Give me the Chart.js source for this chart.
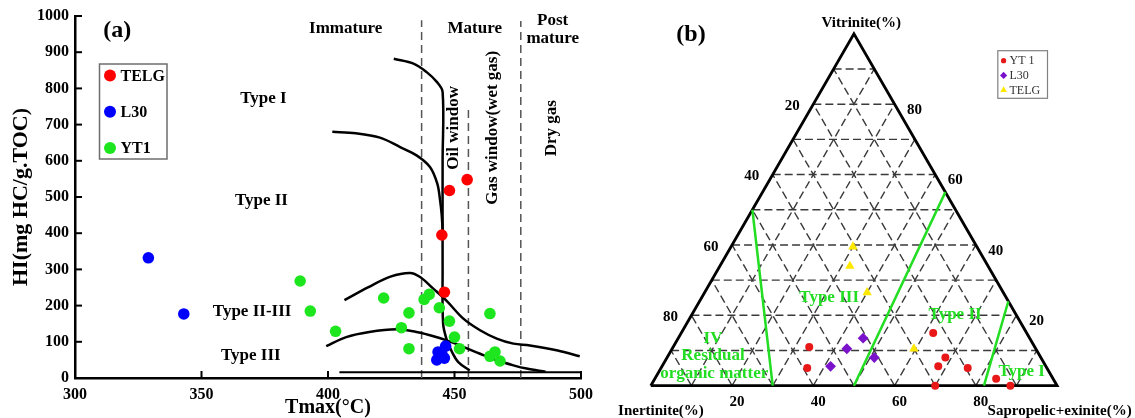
<!DOCTYPE html>
<html>
<head>
<meta charset="utf-8">
<script src="https://cdn.jsdelivr.net/npm/chart.js@4.4.1/dist/chart.umd.min.js"></script>
<style>
  html, body { margin: 0; padding: 0; background: #fff; }
  #wrap { position: relative; width: 1135px; height: 418px; }
  #chartA { position: absolute; left: 0; top: 0; }
  #chartB { position: absolute; left: 600px; top: 0; }
</style>
</head>
<body>
<div id="wrap">
  <canvas id="chartA" width="600" height="418"></canvas>
  <canvas id="chartB" width="535" height="418"></canvas>
</div>
<script>
// ---------- panel (a): HI vs Tmax ----------
const telgTmax = [448, 455, 445, 446];
const telgHI = [518, 548, 395, 237];
const l30Tmax = [329, 343, 446.5, 443.5, 445, 443, 446];
const l30HI = [332, 177, 88, 72, 66, 50, 55];
const yt1Tmax = [389, 393, 403, 422, 432, 429, 432, 438, 440, 444, 448, 450, 452, 464, 464, 466, 468];
const yt1HI = [268, 185, 129, 221, 180, 139, 81, 217, 231, 194, 157, 113, 81, 178, 60, 72, 47];

// kerogen type boundary curves
const typeITmax = [426, 434, 439, 443, 445.3, 445.3, 445.3, 445.5, 447, 449, 451.5, 456];
const typeIHI = [882, 868, 845, 818, 790, 600, 300, 150, 104, 72, 44, 21];
const typeIITmax = [401.7, 411, 420.5, 428.5, 435, 440.3, 443.2, 444.3, 444.9, 445.3];
const typeIIHI = [680, 676, 664, 638, 615, 583, 537, 491, 454, 410];
const typeIIIIITmax = [406.5, 416, 424.7, 432.4, 436.4, 441.6, 446.9, 453.5, 460.1, 466.7, 473.3, 479.8, 490.8, 499.5];
const typeIIIIIHI = [215, 251, 280, 290, 279, 247, 213, 164, 132, 109, 95, 90, 76, 60];
const typeIIITmax = [399.3, 407.2, 416.3, 427.1, 433.7, 440.3, 446.9, 453.5, 460.1, 466.7, 473.3, 478.5, 486];
const typeIIIHI = [88, 113, 127, 134.5, 129, 118, 104, 86, 67, 49, 35, 26, 17];
const baseTmax = [404.5, 500, 500];
const baseHI = [16, 16, 0];

// maturity window boundaries (dashed)
const windowTmax = [437, 455.5, 476.2];
const windowTop = [988, 749, 986];

const xTicksA = [300, 350, 400, 450, 500];

// ---------- panel (b): maceral ternary ----------
const yt1Vit = [11, 5, 15, 8, 5.5, 5, 0, 2, 0];
const yt1Ine = [55.5, 59, 23, 23.5, 26.5, 19.5, 30, 14, 11.5];
const yt1Sap = [33.5, 36, 62, 68.5, 68, 75.5, 70, 84, 88.5];
const l30Vit = [13.5, 10.5, 8, 5.5];
const l30Ine = [41, 46.5, 41, 53];
const l30Sap = [45.5, 43, 51, 41.5];
const telgVit = [39.5, 34, 26.5, 10.5];
const telgIne = [30.5, 34, 33.5, 30];
const telgSap = [30, 32, 40, 59.5];

const boundaryVit = [[50, 0], [55, 0], [24, 0]];
const boundaryIne = [[50, 70], [0, 50], [0, 18]];
const boundarySap = [[0, 30], [45, 50], [76, 82]];

const gridSteps = [10, 20, 30, 40, 50, 60, 70, 80, 90];
const ternTicks = [20, 40, 60, 80];

const serif = "'Liberation Serif', 'Times New Roman', serif";
function font(size, bold) { return (bold ? 'bold ' : '') + size + 'px ' + serif; }
function pairs(xs, ys) { return xs.map((x, i) => ({ x: x, y: ys[i] })); }

function curve(xs, ys) {
    return {
        data: pairs(xs, ys), showLine: true, borderColor: '#000', borderWidth: 2.5,
        pointRadius: 0, tension: 0.35, order: 2, clip: false
    };
}

// ---------- chart (a) ----------
const annotA = {
    id: 'annotA',
    afterDatasetsDraw(chart) {
        const { ctx, chartArea: a, scales: { x, y } } = chart;
        ctx.save();
        // inward tick marks
        ctx.strokeStyle = '#000';
        ctx.lineWidth = 2;
        x.ticks.forEach(t => {
            const p = x.getPixelForValue(t.value);
            ctx.beginPath(); ctx.moveTo(p, a.bottom); ctx.lineTo(p, a.bottom - 7); ctx.stroke();
        });
        y.ticks.forEach(t => {
            const p = y.getPixelForValue(t.value);
            ctx.beginPath(); ctx.moveTo(a.left, p); ctx.lineTo(a.left + 7, p); ctx.stroke();
        });

        const labels = [
            { t: '(a)', x: 316.7, y: 960, s: 24 },
            { t: 'Immature', x: 407, y: 965 },
            { t: 'Mature', x: 458, y: 965 },
            { t: 'Post', x: 488.8, y: 986 },
            { t: 'mature', x: 488.8, y: 938 },
            { t: 'Type I', x: 374.5, y: 772 },
            { t: 'Type II', x: 373.7, y: 491 },
            { t: 'Type II-III', x: 370, y: 184 },
            { t: 'Type III', x: 369.5, y: 63 },
            { t: 'Oil window', x: 449.8, y: 691, r: true },
            { t: 'Gas window(wet gas)', x: 465.1, y: 691, r: true },
            { t: 'Dry gas', x: 488.5, y: 690, r: true }
        ];
        ctx.fillStyle = '#000';
        ctx.textAlign = 'center';
        ctx.textBaseline = 'middle';
        labels.forEach(l => {
            ctx.font = font(l.s || 17, true);
            const px = x.getPixelForValue(l.x), py = y.getPixelForValue(l.y);
            if (l.r) {
                ctx.save(); ctx.translate(px, py); ctx.rotate(-Math.PI / 2);
                ctx.fillText(l.t, 0, 0); ctx.restore();
            } else {
                ctx.fillText(l.t, px, py);
            }
        });

        // legend box
        ctx.strokeStyle = '#6e6e6e';
        ctx.lineWidth = 1.5;
        ctx.strokeRect(99.5, 64, 67.5, 95);
        ctx.textAlign = 'left';
        ctx.font = font(16, true);
        chart.data.datasets.slice(0, 3).forEach((ds, i) => {
            const ly = 75.5 + i * 36.3;
            ctx.fillStyle = ds.backgroundColor;
            ctx.beginPath(); ctx.arc(110, ly, 6, 0, Math.PI * 2); ctx.fill();
            ctx.fillStyle = '#000';
            ctx.fillText(ds.label, 120.5, ly + 1);
        });
        ctx.restore();
    }
};

const windowSets = windowTmax.map((t, i) => ({
    data: [{ x: t, y: 0 }, { x: t, y: windowTop[i] }], showLine: true,
    borderColor: '#555', borderWidth: 1.5, borderDash: [8, 5], pointRadius: 0, order: 3
}));

new Chart(document.getElementById('chartA'), {
    type: 'scatter',
    data: {
        datasets: [
            { label: 'TELG', data: pairs(telgTmax, telgHI), backgroundColor: '#ff0000', pointRadius: 5.8, borderWidth: 0, order: 0 },
            { label: 'L30', data: pairs(l30Tmax, l30HI), backgroundColor: '#0000ff', pointRadius: 5.8, borderWidth: 0, order: 0 },
            { label: 'YT1', data: pairs(yt1Tmax, yt1HI), backgroundColor: '#1ee61e', pointRadius: 5.8, borderWidth: 0, order: 1 },
            curve(typeITmax, typeIHI),
            curve(typeIITmax, typeIIHI),
            curve(typeIIIIITmax, typeIIIIIHI),
            curve(typeIIITmax, typeIIIHI),
            Object.assign(curve(baseTmax, baseHI), { tension: 0, borderWidth: 2 })
        ].concat(windowSets)
    },
    options: {
        responsive: false,
        animation: false,
        events: [],
        layout: { padding: { left: 0, right: 19, top: 16, bottom: 0 } },
        plugins: { legend: { display: false }, tooltip: { enabled: false } },
        scales: {
            x: {
                type: 'linear', min: 300, max: 500,
                afterBuildTicks: s => { s.ticks = xTicksA.map(v => ({ value: v })); },
                ticks: { color: '#000', font: { family: serif, size: 16, weight: 'bold' }, padding: 7,
                         callback: v => String(v) },
                grid: { display: false, drawTicks: false },
                border: { display: true, color: '#000', width: 2.5 },
                title: { display: true, text: 'Tmax(°C)', color: '#000', padding: 0,
                         font: { family: serif, size: 20, weight: 'bold', lineHeight: 1 } },
                afterFit: s => { s.height = 40; }
            },
            y: {
                type: 'linear', min: 0, max: 1000,
                ticks: { stepSize: 100, color: '#000', font: { family: serif, size: 16, weight: 'bold' }, padding: 6,
                         callback: v => String(v) },
                grid: { display: false, drawTicks: false },
                border: { display: true, color: '#000', width: 2.5 },
                title: { display: true, text: 'HI(mg HC/g.TOC)', color: '#000', padding: { top: 8, bottom: 0 },
                         font: { family: serif, size: 22, weight: 'bold', lineHeight: 1.2 } },
                afterFit: s => { s.width = 75; }
            }
        }
    },
    plugins: [annotA]
});

// ---------- chart (b) ----------
const H = Math.sqrt(3) / 2;
function tern(v, i, s) {
    const t = v + i + s;
    return { x: 100 * (s + v / 2) / t, y: 100 * H * v / t };
}
function ternSet(vs, is, ss) { return vs.map((v, k) => tern(v, is[k], ss[k])); }

const gridSets = [];
gridSteps.forEach(k => {
    [[tern(k, 100 - k, 0), tern(k, 0, 100 - k)],
     [tern(0, 100 - k, k), tern(100 - k, 0, k)],
     [tern(0, k, 100 - k), tern(100 - k, k, 0)]].forEach(seg => gridSets.push({
        data: seg, showLine: true, borderColor: '#3a3a3a', borderWidth: 1.4,
        borderDash: [8, 4], pointRadius: 0, order: 4, clip: false
    }));
});

const boundarySets = boundaryVit.map((vs, k) => ({
    data: ternSet(vs, boundaryIne[k], boundarySap[k]), showLine: true,
    borderColor: '#22dd22', borderWidth: 2.5, pointRadius: 0, order: 2, clip: false
}));

const frameSet = {
    data: [tern(0, 100, 0), tern(0, 0, 100), tern(100, 0, 0), tern(0, 100, 0)], showLine: true,
    borderColor: '#000', borderWidth: 2.8, pointRadius: 0, order: 3, clip: false
};

function marker(ctx, style, x, y, r) {
    ctx.beginPath();
    if (style === 'circle') {
        ctx.arc(x, y, r, 0, Math.PI * 2);
    } else if (style === 'rectRot') {
        ctx.moveTo(x, y - r); ctx.lineTo(x + r, y); ctx.lineTo(x, y + r); ctx.lineTo(x - r, y);
    } else {
        ctx.moveTo(x, y - r); ctx.lineTo(x + r * H, y + r / 2); ctx.lineTo(x - r * H, y + r / 2);
    }
    ctx.closePath();
    ctx.fill();
}

const annotB = {
    id: 'annotB',
    afterDatasetsDraw(chart) {
        const { ctx, scales: { x, y } } = chart;
        const P = p => [x.getPixelForValue(p.x), y.getPixelForValue(p.y)];
        ctx.save();
        ctx.fillStyle = '#000';
        ctx.textAlign = 'center';
        ctx.textBaseline = 'middle';
        ctx.font = font(15, true);
        ternTicks.forEach(t => {
            let [a, b] = P(tern(100 - t, t, 0));
            ctx.fillText(String(t), a - 21, b + 2);
            [a, b] = P(tern(t, 0, 100 - t));
            ctx.fillText(String(t), a + 20, b + 6);
            [a, b] = P(tern(0, 100 - t, t));
            ctx.fillText(String(t), a + 5, b + 16);
        });
        const texts = [
            { t: '(b)', x: 9.9, y: 86.3, f: font(24, true) },
            { t: 'Vitrinite(%)', x: 51.8, y: 89.3, f: font(15, true) },
            { t: 'Inertinite(%)', x: 2.5, y: -6.2, f: font(15, true) },
            { t: 'Sapropelic+exinite(%)', x: 82.9, y: -6.2, f: font(15, true), a: 'left' },
            { t: 'Type III', x: 43.9, y: 21.7, f: font(17, true), c: '#22dd22' },
            { t: 'Type II', x: 74.9, y: 17.4, f: font(17, true), c: '#22dd22' },
            { t: 'Type I', x: 91.3, y: 3.4, f: font(17, true), c: '#22dd22' },
            { t: 'IV', x: 15.3, y: 11.7, f: font(17, true), c: '#22dd22' },
            { t: 'Residual', x: 15.3, y: 7.3, f: font(17, true), c: '#22dd22' },
            { t: 'organic matter', x: 15.6, y: 2.9, f: font(17, true), c: '#22dd22' }
        ];
        texts.forEach(l => {
            const [a, b] = P(l);
            ctx.font = l.f;
            ctx.fillStyle = l.c || '#000';
            ctx.textAlign = l.a || 'center';
            ctx.fillText(l.t, a, b);
        });

        // legend
        ctx.strokeStyle = '#808080';
        ctx.lineWidth = 1.2;
        ctx.strokeRect(397.8, 50.7, 49.7, 47.6);
        ctx.textAlign = 'left';
        ctx.font = font(12, false);
        const sizes = [2.6, 3.6, 3.8];
        chart.data.datasets.slice(0, 3).forEach((ds, i) => {
            const ly = 60.7 + i * 14.7;
            ctx.fillStyle = ds.backgroundColor;
            marker(ctx, ds.pointStyle, 403.6, ly, sizes[i]);
            ctx.fillStyle = '#333';
            ctx.fillText(ds.label, 409.5, ly + 0.5);
        });
        ctx.restore();
    }
};

new Chart(document.getElementById('chartB'), {
    type: 'scatter',
    data: {
        datasets: [
            { label: 'YT 1', data: ternSet(yt1Vit, yt1Ine, yt1Sap), pointStyle: 'circle', pointRadius: 4,
              backgroundColor: '#e81818', borderWidth: 0, order: 0, clip: false },
            { label: 'L30', data: ternSet(l30Vit, l30Ine, l30Sap), pointStyle: 'rectRot', pointRadius: 5.4,
              backgroundColor: '#7a12cc', borderWidth: 0, order: 0, clip: false },
            { label: 'TELG', data: ternSet(telgVit, telgIne, telgSap), pointStyle: 'triangle', pointRadius: 5.4,
              backgroundColor: '#ffe800', borderWidth: 0, order: 0, clip: false },
            frameSet
        ].concat(boundarySets, gridSets)
    },
    options: {
        responsive: false,
        animation: false,
        events: [],
        layout: { padding: { left: 50.8, right: 77.9, top: 33.8, bottom: 32.3 } },
        plugins: { legend: { display: false }, tooltip: { enabled: false } },
        scales: {
            x: { type: 'linear', min: 0, max: 100, display: false },
            y: { type: 'linear', min: 0, max: 100 * H, display: false }
        }
    },
    plugins: [annotB]
});
</script>
</body>
</html>
